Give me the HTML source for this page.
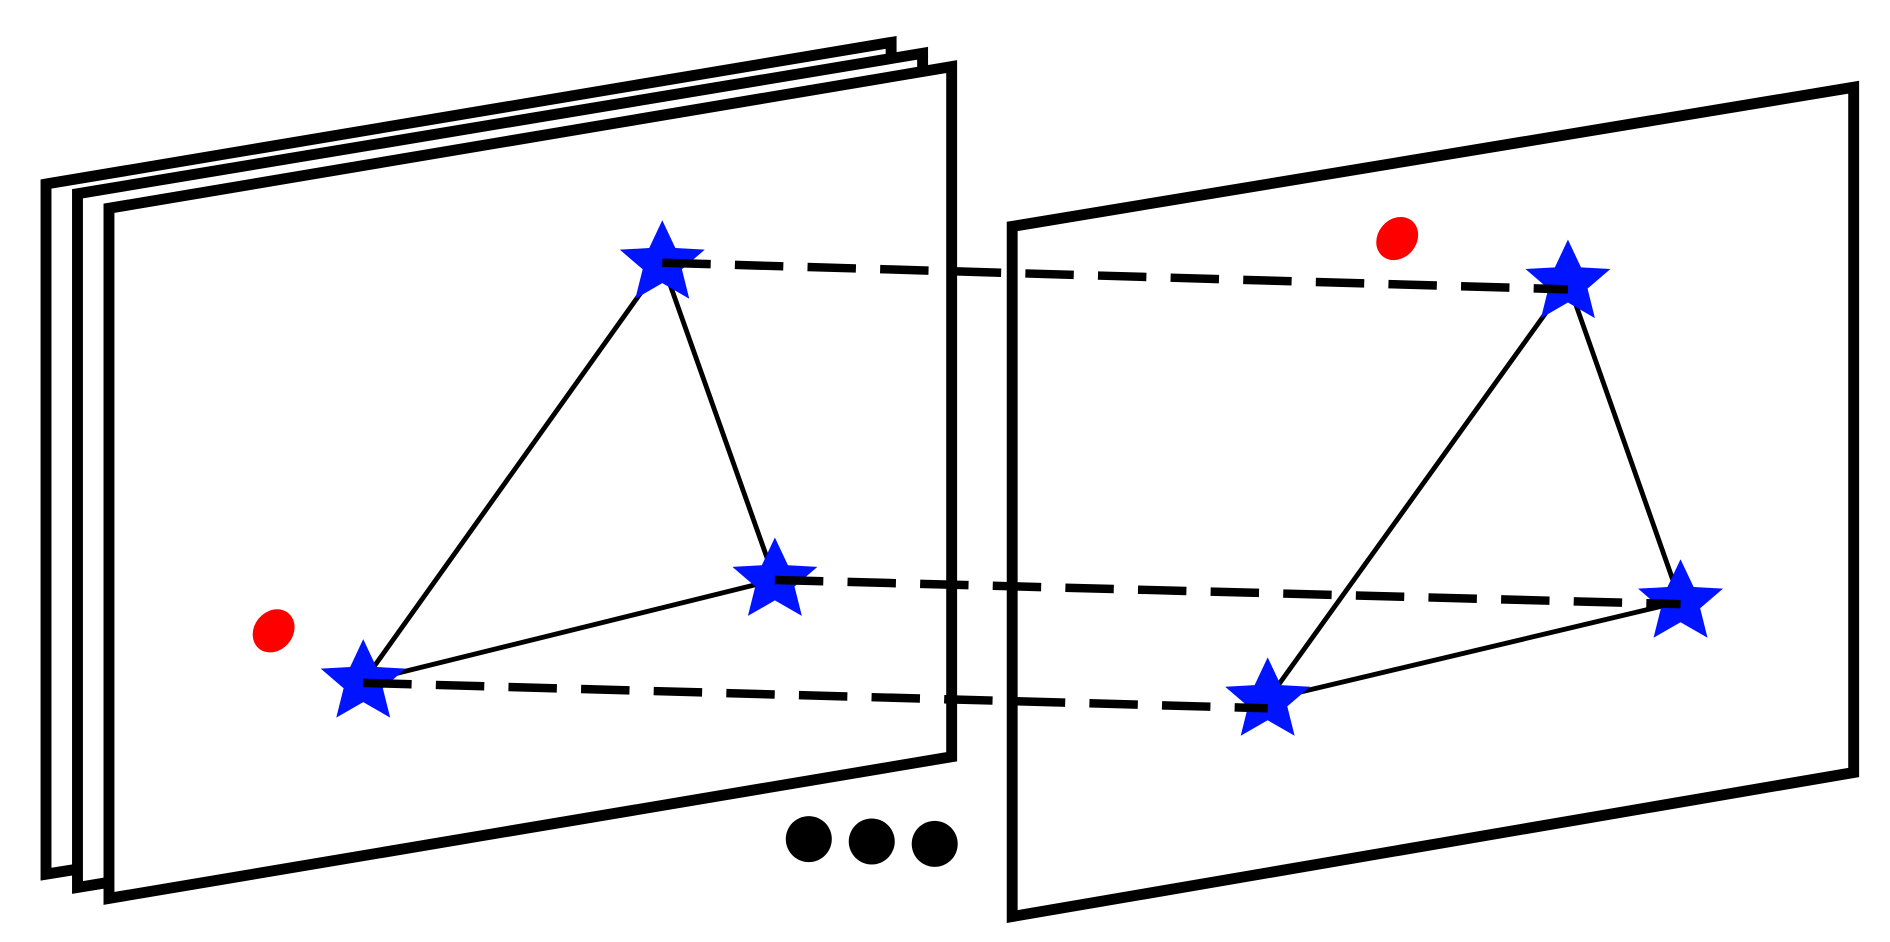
<!DOCTYPE html>
<html><head><meta charset="utf-8"><style>html,body{margin:0;padding:0;background:#fff}svg{display:block}</style></head>
<body>
<svg width="1890" height="942" viewBox="0 0 1561 778" xmlns="http://www.w3.org/2000/svg">
<defs>
<polygon id="st" points="0,-26 8,-9 26,-8 12,4 16.5,22 0,12.5 -16.5,22 -12,4 -26,-8 -8,-9" fill="#0014ff" transform="scale(1.35)"/>
</defs>
<g fill="#fff" stroke="#000" stroke-width="9" stroke-linejoin="miter">
<polygon points="38,152 736,35 736,610 38,722"/>
<polygon points="64,160 762,44 762,618 64,733"/>
<polygon points="90,172 786,55 786,625 90,742"/>
<polygon points="836,187 1531,72 1531,638 836,757"/>
</g>
<g stroke="#000" stroke-width="4" fill="none">
<polyline points="300,563 547,217 640,479 300,563"/>
<polyline points="1047,578 1295,233 1388,497 1047,578"/>
</g>
<use href="#st" x="547" y="217"/>
<use href="#st" x="640" y="479"/>
<use href="#st" x="300" y="563"/>
<use href="#st" x="1295" y="233"/>
<use href="#st" x="1388" y="497"/>
<use href="#st" x="1047" y="578"/>
<g stroke="#000" stroke-width="7" stroke-dasharray="40,20" fill="none">
<line x1="547" y1="217" x2="1295" y2="239"/>
<line x1="640" y1="479" x2="1388" y2="499"/>
<line x1="300" y1="564" x2="1047" y2="585"/>
</g>
<ellipse cx="226" cy="521" rx="16" ry="19" transform="rotate(40 226 521)" fill="#f00"/>
<ellipse cx="1154" cy="197" rx="16" ry="19" transform="rotate(40 1154 197)" fill="#f00"/>
<circle cx="668" cy="693" r="19" fill="#000"/>
<circle cx="720" cy="695" r="19" fill="#000"/>
<circle cx="772" cy="697" r="19" fill="#000"/>
</svg>
</body></html>
